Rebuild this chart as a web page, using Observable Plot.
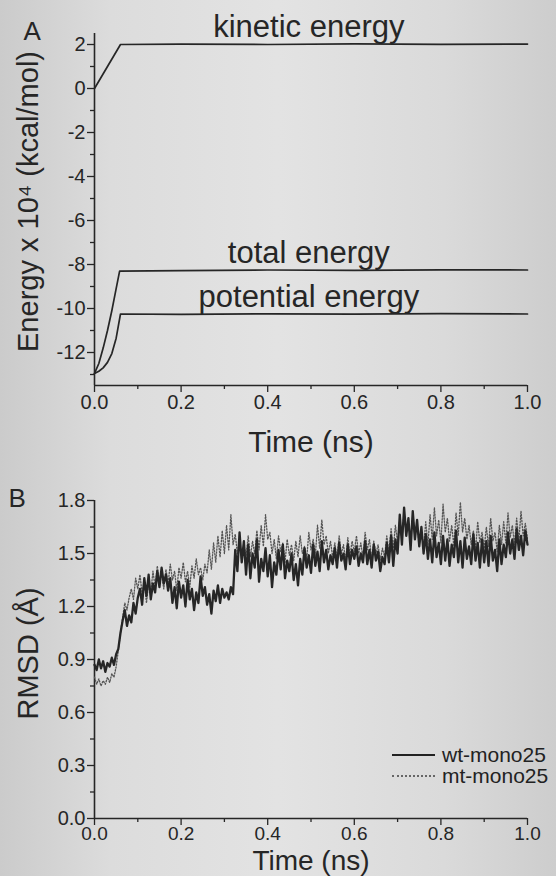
<!DOCTYPE html>
<html>
<head>
<meta charset="utf-8">
<script src="https://cdn.jsdelivr.net/npm/d3@7"></script>
<script src="https://cdn.jsdelivr.net/npm/@observablehq/plot@0.6"></script>
<style>
  html, body { margin: 0; padding: 0; }
  body {
    width: 556px; height: 876px; overflow: hidden;
    background: linear-gradient(90deg, #cbcbcb 0%, #dcdcdc 20%, #e3e3e3 50%, #dadada 80%, #cdcdcd 100%);
    font-family: "Liberation Sans", Arial, sans-serif;
    color: #222;
  }
  #wrap { position: relative; width: 556px; height: 876px; }
  #panelA { position: absolute; left: 0; top: 0; }
  #panelB { position: absolute; left: 0; top: 470px; }
  .legend { position: absolute; left: 392px; top: 744px; font-size: 21px; line-height: 21px; color: #222; }
  .legend .row { display: flex; align-items: center; height: 21px; white-space: nowrap; }
  .legend .sw { display: inline-block; width: 43px; height: 0; margin-right: 7px; }
  .legend .solid { border-top: 2px solid #222; }
  .legend .dotted { border-top: 2px dotted #666; }
</style>
</head>
<body>
<div id="wrap">
  <div id="panelA"></div>
  <div id="panelB"></div>
  <div class="legend" id="legend"></div>
</div>
<script>
// ---------------- Panel A data (energy x 10^4 kcal/mol vs time ns) ----------------
const kineticTime = [0, 0.06, 0.2, 0.4, 0.6, 0.8, 1.0];
const kineticEnergy = [0, 2.0, 2.02, 2.0, 2.03, 2.01, 2.02];

const totalTime = [0, 0.01, 0.02, 0.03, 0.04, 0.05, 0.058, 0.2, 0.4, 0.6, 0.8, 1.0];
const totalEnergy = [-12.95, -12.5, -11.8, -11.0, -10.1, -9.1, -8.3, -8.28, -8.25, -8.27, -8.24, -8.25];

const potentialTime = [0, 0.01, 0.02, 0.03, 0.04, 0.05, 0.06, 0.2, 0.4, 0.6, 0.8, 1.0];
const potentialEnergy = [-12.95, -12.85, -12.7, -12.45, -12.05, -11.35, -10.25, -10.27, -10.24, -10.26, -10.23, -10.25];

const energyNames = ["kinetic energy", "total energy", "potential energy"];
const energyTicks = [-12, -10, -8, -6, -4, -2, 0, 2];
const energyMinorTicks = [-13, -11, -9, -7, -5, -3, -1, 1];
const timeTicks = [0, 0.2, 0.4, 0.6, 0.8, 1.0];
const timeMinorTicks = [0.1, 0.3, 0.5, 0.7, 0.9];

// ---------------- Panel B data (RMSD in Å, sampled every 0.005 ns) ----------------
const rmsdStep = 0.005;
const wtRmsd = [
  0.87, 0.84, 0.90, 0.85, 0.89, 0.83, 0.88, 0.86, 0.91, 0.87, 0.93,
  0.96, 1.05, 1.12, 1.18, 1.09, 1.15, 1.11, 1.22, 1.16, 1.25,
  1.30, 1.21, 1.36, 1.26, 1.38, 1.24, 1.33, 1.28, 1.40, 1.31,
  1.42, 1.33, 1.38, 1.29, 1.36, 1.22, 1.31, 1.19, 1.34, 1.25,
  1.32, 1.20, 1.35, 1.24, 1.30, 1.18, 1.28, 1.22, 1.37, 1.26,
  1.31, 1.21, 1.27, 1.16, 1.29, 1.23, 1.32, 1.22, 1.30, 1.25,
  1.28, 1.24, 1.31, 1.27, 1.52, 1.40, 1.62, 1.45, 1.57, 1.38,
  1.55, 1.36, 1.50, 1.42, 1.58, 1.34, 1.47, 1.40, 1.53, 1.37,
  1.49, 1.31, 1.45, 1.38, 1.52, 1.41, 1.55, 1.36, 1.46, 1.40,
  1.50, 1.35, 1.44, 1.32, 1.47, 1.38, 1.53, 1.42, 1.49, 1.39,
  1.55, 1.43, 1.51, 1.40, 1.57, 1.45, 1.52, 1.41, 1.49, 1.44,
  1.53, 1.42, 1.56, 1.46, 1.50, 1.41, 1.55, 1.44, 1.52, 1.47,
  1.54, 1.43, 1.50, 1.45, 1.57, 1.44, 1.52, 1.42, 1.55, 1.46,
  1.51, 1.40, 1.48, 1.44, 1.56, 1.45, 1.60, 1.43, 1.58, 1.50,
  1.72, 1.55, 1.76, 1.60, 1.70, 1.52, 1.74, 1.58, 1.69, 1.54,
  1.65, 1.50, 1.61, 1.47, 1.58, 1.45, 1.62, 1.48, 1.56, 1.44,
  1.60, 1.46, 1.58, 1.43, 1.55, 1.48, 1.63, 1.45, 1.57, 1.42,
  1.59, 1.47, 1.54, 1.44, 1.61, 1.46, 1.56, 1.42, 1.58, 1.45,
  1.57, 1.43, 1.60, 1.46, 1.52, 1.40, 1.58, 1.44, 1.55, 1.48,
  1.62, 1.50, 1.58, 1.47, 1.64, 1.52, 1.60, 1.49, 1.63, 1.55
];
const mtRmsd = [
  0.80, 0.76, 0.79, 0.75, 0.78, 0.76, 0.80, 0.77, 0.82, 0.80, 0.86,
  0.95, 1.05, 1.14, 1.22, 1.18, 1.25, 1.30, 1.24, 1.36, 1.30,
  1.38, 1.27, 1.35, 1.22, 1.33, 1.28, 1.40, 1.31, 1.43, 1.34,
  1.38, 1.30, 1.41, 1.33, 1.44, 1.35, 1.40, 1.29, 1.42, 1.36,
  1.45, 1.34, 1.40, 1.31, 1.43, 1.36, 1.47, 1.38, 1.42, 1.35,
  1.44, 1.39, 1.52, 1.41, 1.56, 1.45, 1.60, 1.48, 1.63, 1.50,
  1.66, 1.52, 1.72, 1.55, 1.61, 1.50, 1.58, 1.46, 1.55, 1.49,
  1.60, 1.48, 1.57, 1.50, 1.63, 1.52, 1.66, 1.54, 1.72, 1.58,
  1.62, 1.50, 1.58, 1.47, 1.60, 1.51, 1.56, 1.45, 1.58, 1.49,
  1.55, 1.46, 1.57, 1.48, 1.60, 1.50, 1.54, 1.47, 1.62, 1.52,
  1.58, 1.49, 1.66, 1.53, 1.69, 1.55, 1.60, 1.50, 1.57, 1.48,
  1.56, 1.47, 1.60, 1.50, 1.55, 1.46, 1.59, 1.49, 1.57, 1.51,
  1.60, 1.50, 1.56, 1.48, 1.62, 1.52, 1.58, 1.47, 1.57, 1.50,
  1.55, 1.46, 1.53, 1.48, 1.60, 1.51, 1.64, 1.53, 1.66, 1.56,
  1.70, 1.58, 1.74, 1.61, 1.68, 1.57, 1.72, 1.60, 1.66, 1.55,
  1.63, 1.53, 1.68, 1.55, 1.72, 1.58, 1.76, 1.60, 1.69, 1.56,
  1.78, 1.62, 1.70, 1.57, 1.66, 1.54, 1.73, 1.60, 1.79, 1.62,
  1.70, 1.58, 1.66, 1.55, 1.63, 1.52, 1.68, 1.56, 1.62, 1.53,
  1.65, 1.54, 1.70, 1.57, 1.62, 1.51, 1.66, 1.55, 1.68, 1.56,
  1.73, 1.59, 1.66, 1.55, 1.70, 1.57, 1.74, 1.60, 1.67, 1.58
];
const rmsdNames = ["wt-mono25", "mt-mono25"];
const rmsdTicks = [0, 0.3, 0.6, 0.9, 1.2, 1.5, 1.8];
const rmsdMinorTicks = [0.15, 0.45, 0.75, 1.05, 1.35, 1.65];

// ---------------- Build tables ----------------
const zipSeries = (name, ts, vs) => ts.map((t, i) => ({name, t, v: vs[i]}));
const energyData = [
  ...zipSeries(energyNames[0], kineticTime, kineticEnergy),
  ...zipSeries(energyNames[1], totalTime, totalEnergy),
  ...zipSeries(energyNames[2], potentialTime, potentialEnergy)
];
const energyLabelRows = [
  {name: energyNames[0], v: kineticEnergy[kineticEnergy.length - 1]},
  {name: energyNames[1], v: totalEnergy[totalEnergy.length - 1]},
  {name: energyNames[2], v: potentialEnergy[potentialEnergy.length - 1]}
];
const wtData = wtRmsd.map((v, i) => ({t: +(i * rmsdStep).toFixed(3), v}));
const mtData = mtRmsd.map((v, i) => ({t: +(i * rmsdStep).toFixed(3), v}));

// ---------------- Styling ----------------
const ink = "#262626";
const W = 556;
const fontFam = "'Liberation Sans', Arial, sans-serif";
const fmt1 = d3.format(".1f");

// ---------------- Panel A ----------------
const yBottomA = -13.5;
const chartA = Plot.plot({
  width: W, height: 470,
  marginLeft: 94, marginRight: 29, marginTop: 33, marginBottom: 85,
  style: {background: "transparent", fontFamily: fontFam, color: ink, overflow: "visible"},
  x: {domain: [0, 1], axis: null},
  y: {domain: [yBottomA, 2.5], axis: null},
  marks: [
    Plot.axisY(energyTicks, {tickSize: 7, tickPadding: 2, fontSize: 20, tickFormat: d => String(d), label: null, stroke: ink, strokeWidth: 1.3, fill: ink}),
    Plot.axisY(energyMinorTicks, {tickSize: 4, tickFormat: () => "", label: null, stroke: ink, strokeWidth: 1.3}),
    Plot.axisX(timeTicks, {tickSize: 7, tickPadding: 2, fontSize: 20, tickFormat: fmt1, label: null, stroke: ink, strokeWidth: 1.3, fill: ink}),
    Plot.axisX(timeMinorTicks, {tickSize: 4, tickFormat: () => "", label: null, stroke: ink, strokeWidth: 1.3}),
    Plot.ruleX([0], {stroke: ink, strokeWidth: 1.6}),
    Plot.ruleY([yBottomA], {stroke: ink, strokeWidth: 1.6}),
    Plot.line(energyData, {x: "t", y: "v", z: "name", stroke: ink, strokeWidth: 1.7}),
    Plot.text(energyLabelRows, {x: 0.495, y: "v", text: "name", fontSize: 31, lineAnchor: "bottom", dy: -7, fill: ink}),
    Plot.text(["Energy x 10⁴ (kcal/mol)"], {frameAnchor: "left", textAnchor: "middle", lineAnchor: "middle", dx: -66, dy: -8, rotate: -90, fontSize: 29, fill: ink}),
    Plot.text(["Time (ns)"], {frameAnchor: "bottom", textAnchor: "middle", lineAnchor: "middle", dy: 57, fontSize: 30, fill: ink}),
    Plot.text(["A"], {frameAnchor: "top-left", textAnchor: "start", lineAnchor: "top", dx: -71, dy: -12, fontSize: 26, fill: ink})
  ]
});
document.getElementById("panelA").appendChild(chartA);

// ---------------- Panel B ----------------
const chartB = Plot.plot({
  width: W, height: 406,
  marginLeft: 94, marginRight: 29, marginTop: 30, marginBottom: 58,
  style: {background: "transparent", fontFamily: fontFam, color: ink, overflow: "visible"},
  x: {domain: [0, 1], axis: null},
  y: {domain: [0, 1.8], axis: null},
  marks: [
    Plot.axisY(rmsdTicks, {tickSize: 7, tickPadding: 2, fontSize: 20, tickFormat: fmt1, label: null, stroke: ink, strokeWidth: 1.3, fill: ink}),
    Plot.axisY(rmsdMinorTicks, {tickSize: 4, tickFormat: () => "", label: null, stroke: ink, strokeWidth: 1.3}),
    Plot.axisX(timeTicks, {tickSize: 7, tickPadding: 1, fontSize: 19, tickFormat: fmt1, label: null, stroke: ink, strokeWidth: 1.3, fill: ink}),
    Plot.axisX(timeMinorTicks, {tickSize: 4, tickFormat: () => "", label: null, stroke: ink, strokeWidth: 1.3}),
    Plot.ruleX([0], {stroke: ink, strokeWidth: 1.6}),
    Plot.ruleY([0], {stroke: ink, strokeWidth: 1.6}),
    Plot.line(mtData, {x: "t", y: "v", stroke: "#555", strokeWidth: 1.3, strokeDasharray: "1.3,1.7"}),
    Plot.line(wtData, {x: "t", y: "v", stroke: ink, strokeWidth: 2.3}),
    Plot.text(["RMSD (Å)"], {frameAnchor: "left", textAnchor: "middle", lineAnchor: "middle", dx: -66, dy: -6, rotate: -90, fontSize: 29, fill: ink}),
    Plot.text(["Time (ns)"], {frameAnchor: "bottom", textAnchor: "middle", lineAnchor: "bottom", dy: 51, fontSize: 28, fill: ink}),
    Plot.text(["B"], {frameAnchor: "top-left", textAnchor: "start", lineAnchor: "top", dx: -86, dy: -12, fontSize: 26, fill: ink})
  ]
});
document.getElementById("panelB").appendChild(chartB);

// ---------------- Legend ----------------
const legend = document.getElementById("legend");
rmsdNames.forEach((name, i) => {
  const row = document.createElement("div");
  row.className = "row";
  const sw = document.createElement("span");
  sw.className = "sw " + (i === 0 ? "solid" : "dotted");
  const label = document.createElement("span");
  label.textContent = name;
  row.appendChild(sw);
  row.appendChild(label);
  legend.appendChild(row);
});
</script>
</body>
</html>
